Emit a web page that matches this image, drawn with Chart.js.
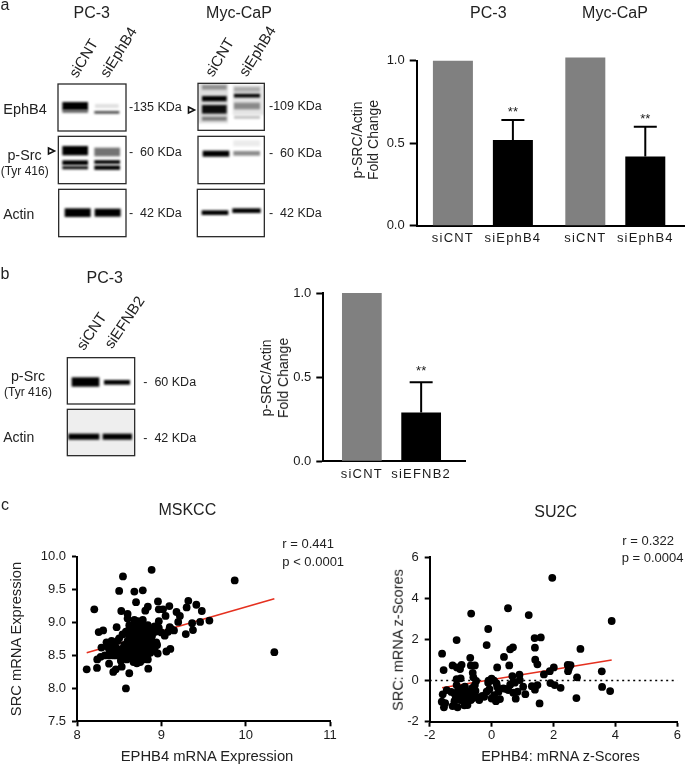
<!DOCTYPE html>
<html>
<head>
<meta charset="utf-8">
<style>
html, body { margin: 0; padding: 0; background: #fff; }
#page { position: absolute; left: 0; top: 0; width: 685px; height: 764px; overflow: hidden; font-family: "Liberation Sans", Arial, sans-serif; color: #222; }
#page canvas { position: absolute; }
.lbl { position: absolute; white-space: pre; line-height: 1; }
</style>
<script src="https://cdn.jsdelivr.net/npm/chart.js@4/dist/chart.umd.min.js"></script>
</head>
<body>
<div id="page">
<canvas id="blots" width="685" height="764" style="left:0;top:0"></canvas>
<canvas id="barA"></canvas>
<canvas id="barB"></canvas>
<canvas id="mskcc"></canvas>
<canvas id="su2c"></canvas>
</div>
<script>
// panel a bars
const ephCategories = ['PC-3', 'Myc-CaP'];
const ephControl = [1.0, 1.02];
const ephKnock = [0.52, 0.42];
const ephKnockErr = [0.12, 0.18];

// panel b bars
const efnCategories = ['PC-3'];
const efnControl = [1.0];
const efnKnock = [0.29];
const efnKnockErr = [0.18];

// panel c, MSKCC
const mskccX = [8.115, 8.205, 8.545, 8.5, 8.885, 8.68, 8.78, 9.87, 10.34, 8.58, 8.7, 8.96, 9.32, 9.3, 9.415, 9.48, 9.57, 9.46, 9.365, 9.375, 9.29, 9.2, 9.22, 9.18, 9.095, 9.02, 8.97, 9.05, 8.84, 8.81, 8.525, 8.6, 8.6, 8.47, 8.257, 8.31, 8.957, 8.845, 9.107, 9.06, 8.62, 8.237, 8.43, 8.46, 8.53, 8.38,
  8.29, 8.35, 8.39, 8.42, 8.38, 8.44, 8.48, 8.5, 8.54, 8.58, 8.62, 8.65, 8.68, 8.64, 8.6, 8.56, 8.53, 8.51, 8.55, 8.59, 8.63, 8.67, 8.71, 8.75, 8.79, 8.83, 8.8, 8.76, 8.72, 8.68, 8.66, 8.7, 8.74, 8.78, 8.82, 8.86, 8.9, 8.94, 8.91, 8.87, 8.83, 8.79, 8.75, 8.71, 8.67, 8.63, 8.69, 8.73, 8.77, 8.81, 8.85, 8.89, 8.93, 8.97, 9.0, 9.04, 9.08, 9.12, 9.15, 9.1, 8.97, 8.95, 8.6, 8.57, 8.47, 8.43, 8.38, 8.33, 8.28, 8.24, 8.52, 8.46, 8.41, 8.36, 8.72, 8.76, 8.84, 8.66, 8.7, 8.74, 8.78, 8.84, 8.88, 8.92, 8.62,
  8.68, 8.72, 8.76, 8.8, 8.84, 8.7, 8.74, 8.78, 8.82, 8.86, 8.64, 8.68, 8.72, 8.76, 8.8, 8.66, 8.7, 8.74, 8.78, 8.62, 8.58, 8.88, 8.92, 8.55, 8.83];
const mskccY = [8.29, 9.2, 9.7, 9.48, 9.8, 9.47, 9.49, 9.64, 8.55, 8.0, 9.31, 9.32, 9.33, 9.23, 9.27, 9.175, 9.03, 9.01, 8.99, 8.885, 8.825, 9.01, 9.1, 9.16, 9.25, 9.2, 9.2, 9.1, 9.24, 9.18, 9.175, 9.13, 9.06, 8.93, 8.855, 8.88, 8.53, 8.3, 8.6, 8.56, 8.23, 8.31, 8.25, 8.29, 8.33, 8.375,
  8.62, 8.7, 8.68, 8.66, 8.6, 8.58, 8.72, 8.76, 8.82, 8.86, 8.9, 8.86, 8.82, 8.78, 8.72, 8.66, 8.6, 8.53, 8.48, 8.44, 8.56, 8.62, 8.68, 8.76, 8.82, 8.88, 8.94, 8.98, 9.02, 9.04, 8.96, 8.9, 8.84, 8.74, 8.68, 8.62, 8.66, 8.7, 8.58, 8.54, 8.48, 8.44, 8.4, 8.38, 8.4, 8.46, 8.5, 8.56, 8.62, 8.58, 8.74, 8.8, 8.86, 8.92, 8.85, 8.8, 8.86, 8.9, 8.88, 8.93, 9.02, 8.66, 8.62, 8.54, 8.5, 8.5, 8.5, 8.5, 8.48, 8.44, 8.42, 8.62, 8.72, 8.64, 8.7, 8.52, 8.44, 8.68, 8.6, 8.94, 9.04, 8.96, 8.9, 8.94, 8.96,
  8.74, 8.78, 8.7, 8.66, 8.72, 8.58, 8.62, 8.66, 8.52, 8.56, 8.7, 8.66, 8.82, 8.88, 8.84, 8.46, 8.5, 8.46, 8.52, 8.78, 8.5, 8.74, 8.6, 8.56, 8.78];
const mskccFitX = [8.115, 10.34];
const mskccFitY = [8.54, 9.36];

// panel c, SU2C
const su2cX = [-1.6, -1.55, -1.13, -0.66, -0.69, -0.11, -0.16, 0.53, 1.2, 1.96, 3.88, 2.87, 1.4, 1.39, 1.59, 0.6, 0.69, 0.4, 0.57, 0.18, 1.41, 1.48, 2.01, 1.88, 1.69, 2.46, 2.47, 2.76, 3.56, 3.57, 3.83, 2.74, 1.55, 2.23, 2.04, 1.9, 1.48, 1.4, 1.3, 1.09, 1.02, 0.9, 0.67, 0.78,
  -1.26, -1.12, -0.97, -1.02, -0.67, -0.54, -0.61, -1.13, -1.0, -0.59, 0.0, -0.1, 0.08, -0.5, -1.13, -1.45, -1.58, -1.21, -1.08, -0.86, -0.95, -0.81, -0.65, -0.54, -1.61, -1.5, -1.54, -1.26, -1.1, -1.02, -1.16, -0.88, -0.78, -0.67, -0.4, -0.24, -0.16, -0.07, -0.11, 0.16, 0.18, 0.08, 0.14, 0.27, 0.38, 0.54, 0.7, 0.84, 0.75, 0.91, 0.7, 0.0, -0.97, -0.75, -0.59, -0.85, -0.48, -1.3, -1.05, -0.62, 0.6,
  -1.0, -0.9, -0.72, -0.6, -0.52, -0.92, -1.2, -0.3, 0.22, 0.45, 2.5, 2.55];
const su2cY = [1.31, 0.51, 1.97, 3.26, 1.11, 2.51, 1.73, 3.52, 3.19, 5.0, 2.9, 1.54, 1.6, 2.07, 2.1, 1.52, 1.62, 1.15, 0.74, 0.64, 1.02, 0.79, 0.64, 0.46, 0.3, 0.76, 0.46, 0.16, 0.45, -0.31, -0.51, -0.85, -1.11, -0.35, -0.22, -0.12, -0.22, -0.44, -0.27, -0.66, -0.3, 0.29, 0.22, -0.88,
  0.74, 0.64, 0.77, 0.56, 0.74, 0.74, 0.38, 0.07, 0.11, 0.16, 0.1, 0.0, 0.0, -0.02, -0.22, -0.46, -0.67, -0.62, -0.46, -0.3, -0.54, -0.62, -0.46, -0.22, -1.03, -1.1, -1.3, -1.24, -1.3, -0.95, -0.87, -1.2, -1.19, -0.95, -0.95, -0.79, -0.54, -0.42, -0.1, -0.14, -0.3, -0.71, -1.0, -0.9, -0.38, -0.46, -0.59, -0.54, -0.1, 0.03, -0.05, -0.87, -0.82, -0.75, -0.66, -0.95, -0.8, -0.55, -0.7, -0.35, -0.2,
  -0.7, -1.0, -0.55, -0.85, -0.5, -0.35, -1.0, -0.75, -0.55, -0.4, 0.6, 0.75];
const su2cFitX = [-1.6, 3.88];
const su2cFitY = [-0.35, 1.0];
const su2cZeroX = [-2, 6];
const su2cZeroY = [0, 0];

const font = '"Liberation Sans", Arial, sans-serif';
const INK = '#1a1a1a';
const page = document.getElementById('page');

function label(text, x, y, size, opts) {
    opts = opts || {};
    const el = document.createElement('div');
    el.className = 'lbl';
    el.textContent = text;
    el.style.fontSize = size + 'px';
    el.style.left = x + 'px';
    el.style.top = y + 'px';
    const tx = opts.left ? '0' : '-50%';
    el.style.transform = `translate(${tx},-50%)` + (opts.rot ? ` rotate(${opts.rot}deg)` : '');
    page.appendChild(el);
}

// blot panels, numbers are in the 3x crop coordinates
const bctx = document.getElementById('blots').getContext('2d');
function blot(x0, y0, x1, y1, bg, bands, dy) {
    dy = dy || 0;
    const X = x0 / 3, Y = y0 / 3 + dy, W = (x1 - x0) / 3, H = (y1 - y0) / 3;
    bctx.save();
    bctx.beginPath();
    bctx.rect(X, Y, W, H);
    bctx.clip();
    bctx.fillStyle = bg;
    bctx.fillRect(X, Y, W, H);
    bctx.filter = 'blur(1.2px)';
    bands.forEach(b => {
        bctx.fillStyle = `rgba(0,0,0,${b[4]})`;
        bctx.fillRect(b[0] / 3, (b[2] - b[3] / 2) / 3 + dy, (b[1] - b[0]) / 3, b[3] / 3);
    });
    bctx.restore();
    bctx.strokeStyle = '#2a2a2a';
    bctx.lineWidth = 1.3;
    bctx.strokeRect(X, Y, W, H);
}
function arrowHead(x0, x1, y) {
    bctx.strokeStyle = '#111';
    bctx.lineWidth = 1.6;
    bctx.beginPath();
    bctx.moveTo(x0, y - 3);
    bctx.lineTo(x1, y);
    bctx.lineTo(x0, y + 3);
    bctx.closePath();
    bctx.stroke();
}

blot(174, 252, 378, 393, '#fff', [[187, 264, 318, 24, 1], [187, 264, 334, 9, 0.6], [283, 358, 337, 8, 0.7], [285, 356, 318, 12, 0.12]]);
blot(175, 409, 378, 551, '#fff', [[187, 264, 452, 28, 1], [187, 264, 488, 14, 1], [187, 264, 503, 10, 0.9], [283, 360, 456, 26, 0.55], [283, 360, 486, 11, 1], [283, 360, 503, 13, 1]]);
blot(176, 568, 378, 710, '#fff', [[194, 272, 638, 26, 1], [284, 362, 638, 24, 1]]);
blot(594, 250, 793, 391, '#fff', [[594, 684, 310, 120, 0.13], [698, 793, 300, 90, 0.1], [606, 680, 262, 14, 0.35], [606, 680, 296, 16, 1], [606, 680, 328, 26, 0.95], [606, 680, 356, 12, 0.45], [702, 780, 268, 14, 0.25], [702, 780, 287, 11, 1], [702, 780, 318, 20, 0.4], [702, 780, 352, 8, 0.25]]);
blot(594, 409, 793, 551, '#fff', [[608, 688, 461, 18, 1], [700, 780, 460, 14, 0.45], [700, 780, 430, 18, 0.08]]);
blot(592, 568, 793, 710, '#fff', [[605, 685, 638, 14, 1], [697, 782, 632, 14, 1]]);
blot(202, 263, 404, 402, '#fff', [[215, 298, 336, 28, 1], [312, 390, 337, 14, 1]], 270);
blot(202, 418, 404, 557, '#eeeeee', [[205, 298, 500, 18, 1], [308, 396, 500, 18, 1]], 270);
arrowHead(48.5, 54.5, 151);
arrowHead(188.5, 194.5, 110);

// text around the blots
label('a', 5, 5, 16);
label('b', 5, 274, 16);
label('c', 5, 505, 16);
label('PC-3', 91.7, 12.5, 16);
label('Myc-CaP', 239, 12.5, 16);
label('PC-3', 488.3, 12.5, 16);
label('Myc-CaP', 615, 12.5, 16);
label('PC-3', 104.7, 278.3, 16);
label('siCNT', 83.3, 57.5, 15, { rot: -59 });
label('siEphB4', 118, 52, 15, { rot: -58 });
label('siCNT', 218.5, 56.7, 15, { rot: -59 });
label('siEphB4', 257, 50.7, 15, { rot: -58 });
label('siCNT', 91, 330.7, 15, { rot: -56 });
label('siEFNB2', 124.3, 322.3, 15, { rot: -56 });
label('EphB4', 25, 109, 14.5);
label('p-Src', 24.5, 155, 14.3);
label('(Tyr 416)', 24.7, 170.7, 12);
label('Actin', 18.7, 214, 14);
label('p-Src', 28, 376, 14.3);
label('(Tyr 416)', 28, 392.3, 12);
label('Actin', 18.7, 437.3, 14);
label('-135 KDa', 129, 107.3, 12.5, { left: true });
label('-  60 KDa', 129, 151.7, 12.5, { left: true });
label('-  42 KDa', 129, 212.7, 12.5, { left: true });
label('-109 KDa', 269, 106, 12.5, { left: true });
label('-  60 KDa', 269, 152.7, 12.5, { left: true });
label('-  42 KDa', 269, 212.7, 12.5, { left: true });
label('-  60 KDa', 143.3, 381.7, 12.5, { left: true });
label('-  42 KDa', 143.3, 437.7, 12.5, { left: true });
label('p-SRC/Actin', 357.3, 139.5, 14, { rot: -90 });
label('Fold Change', 373.3, 139.5, 14, { rot: -90 });
label('p-SRC/Actin', 266, 378, 14, { rot: -90 });
label('Fold Change', 282.7, 378, 14, { rot: -90 });
label('MSKCC', 187.3, 510, 16);
label('SU2C', 555.7, 511.7, 16);
label('r = 0.441', 282.3, 543.3, 13, { left: true });
label('p < 0.0001', 282.3, 561, 13, { left: true });
label('r = 0.322', 622.3, 540, 13, { left: true });
label('p = 0.0004', 621.7, 556.7, 13, { left: true });
label('SRC mRNA Expression', 16, 639, 14.7, { rot: -90 });
label('EPHB4 mRNA Expression', 207, 756.3, 14.8);
label('SRC: mRNA z-Scores', 398.3, 639.5, 14.5, { rot: -90 });
label('EPHB4: mRNA z-Scores', 560.5, 756.3, 14.5);

// sizes the canvas so the plot area lands on the wanted box
function fitBox(id, box) {
    const cv = document.getElementById(id);
    const left = Math.floor(box.l) - 45, top = Math.floor(box.t) - 20;
    const width = Math.ceil(box.end) - left, height = Math.ceil(box.b) + 26 - top;
    cv.width = width;
    cv.height = height;
    cv.style.left = left + 'px';
    cv.style.top = top + 'px';
    return {
        padding: { top: box.t - top, right: width - (box.r - left), left: 0, bottom: 0 },
        yw: box.l - left,
        xh: height - (box.b - top)
    };
}

// error caps, stars, per bar labels and the axis stub past the last bar
const barExtras = {
    id: 'barExtras',
    afterDraw(chart, args, opts) {
        const ctx = chart.ctx, y = chart.scales.y, area = chart.chartArea;
        ctx.save();
        ctx.strokeStyle = '#000';
        ctx.lineWidth = 2;
        ctx.beginPath();
        ctx.moveTo(area.right, Math.round(area.bottom));
        ctx.lineTo(chart.width, Math.round(area.bottom));
        ctx.stroke();
        ctx.font = '13px ' + font;
        ctx.fillStyle = INK;
        ctx.textAlign = 'center';
        chart.data.datasets.forEach((ds, d) => {
            chart.getDatasetMeta(d).data.forEach((bar, i) => {
                ctx.letterSpacing = '1.2px';
                ctx.textBaseline = 'middle';
                ctx.fillText(ds.label, bar.x, area.bottom + 13);
                ctx.letterSpacing = '0px';
                if (!ds.errors) return;
                const top = y.getPixelForValue(ds.data[i] + ds.errors[i]);
                ctx.beginPath();
                ctx.moveTo(bar.x, bar.y);
                ctx.lineTo(bar.x, top);
                ctx.moveTo(bar.x - 11.5, top);
                ctx.lineTo(bar.x + 11.5, top);
                ctx.stroke();
                ctx.textBaseline = 'alphabetic';
                ctx.fillText('**', bar.x, top - opts.starGap);
            });
        });
        ctx.restore();
    }
};

function axisStyle(tick) {
    return {
        border: { color: '#000', width: 2 },
        grid: { drawOnChartArea: false, drawTicks: tick > 0, tickLength: tick, tickWidth: 2, tickColor: '#000' }
    };
}

function barChart(id, box, cats, ds, pct, starGap) {
    const f = fitBox(id, box);
    return new Chart(document.getElementById(id), {
        type: 'bar',
        data: {
            labels: cats,
            datasets: ds.map(d => ({
                label: d.label, data: d.data, errors: d.errors,
                backgroundColor: d.color, categoryPercentage: pct[0], barPercentage: pct[1], clip: false
            }))
        },
        options: {
            responsive: false,
            animation: false,
            layout: { padding: f.padding },
            plugins: { legend: { display: false }, tooltip: { enabled: false }, barExtras: { starGap } },
            scales: {
                x: Object.assign(axisStyle(0), { ticks: { display: false }, afterFit: s => { s.height = f.xh; } }),
                y: Object.assign(axisStyle(7), {
                    min: 0, max: 1,
                    ticks: { stepSize: 0.5, padding: 5, color: INK, font: { family: font, size: 13 }, callback: v => v.toFixed(1) },
                    afterFit: s => { s.width = f.yw; }
                })
            }
        },
        plugins: [barExtras]
    });
}

function scatterChart(id, box, xs, ys, lines, xr, yr) {
    const f = fitBox(id, box);
    const toPts = (a, b) => a.map((v, i) => ({ x: v, y: b[i] }));
    const tickFont = { family: font, size: 13 };
    return new Chart(document.getElementById(id), {
        type: 'scatter',
        data: {
            datasets: [{
                data: toPts(xs, ys), backgroundColor: '#000', borderWidth: 0, pointRadius: 3.9, pointHoverRadius: 3.9
            }].concat(lines.map(l => ({
                data: toPts(l.x, l.y), showLine: true, pointRadius: 0, borderColor: l.color,
                borderWidth: l.width, borderDash: l.dash || []
            })))
        },
        options: {
            responsive: false,
            animation: false,
            layout: { padding: f.padding },
            plugins: { legend: { display: false }, tooltip: { enabled: false } },
            scales: {
                x: Object.assign(axisStyle(5), {
                    type: 'linear', min: xr[0], max: xr[1],
                    ticks: { stepSize: xr[2], padding: 1, color: INK, font: tickFont, maxRotation: 0 },
                    afterFit: s => { s.height = f.xh; }
                }),
                y: Object.assign(axisStyle(5), {
                    min: yr[0], max: yr[1],
                    ticks: { stepSize: yr[2], padding: 6, color: INK, font: tickFont, callback: v => yr[3] ? v.toFixed(yr[3]) : String(v) },
                    afterFit: s => { s.width = f.yw; }
                })
            }
        }
    });
}

barChart('barA', { l: 416.7, r: 681.5, t: 60.7, b: 225.7, end: 685 }, ephCategories, [
    { label: 'siCNT', data: ephControl, color: '#808080' },
    { label: 'siEphB4', data: ephKnock, errors: ephKnockErr, color: '#000' }
], [0.906, 0.667], 4);

barChart('barB', { l: 323.3, r: 459.7, t: 293, b: 461.3, end: 465.7 }, efnCategories, [
    { label: 'siCNT', data: efnControl, color: '#808080' },
    { label: 'siEFNB2', data: efnKnock, errors: efnKnockErr, color: '#000' }
], [0.8695, 0.67], 7);

scatterChart('mskcc', { l: 77, r: 330, t: 556.7, b: 721.3, end: 342 }, mskccX, mskccY, [
    { x: mskccFitX, y: mskccFitY, color: '#e5301f', width: 1.6 }
], [8, 11, 1], [7.5, 10, 0.5, 1]);

scatterChart('su2c', { l: 429.7, r: 677.3, t: 557.3, b: 721.7, end: 685 }, su2cX, su2cY, [
    { x: su2cFitX, y: su2cFitY, color: '#e5301f', width: 1.6 },
    { x: su2cZeroX, y: su2cZeroY, color: '#000', width: 1.5, dash: [2, 3.5] }
], [-2, 6, 2], [-2, 6, 2, 0]);
</script>
</body>
</html>
